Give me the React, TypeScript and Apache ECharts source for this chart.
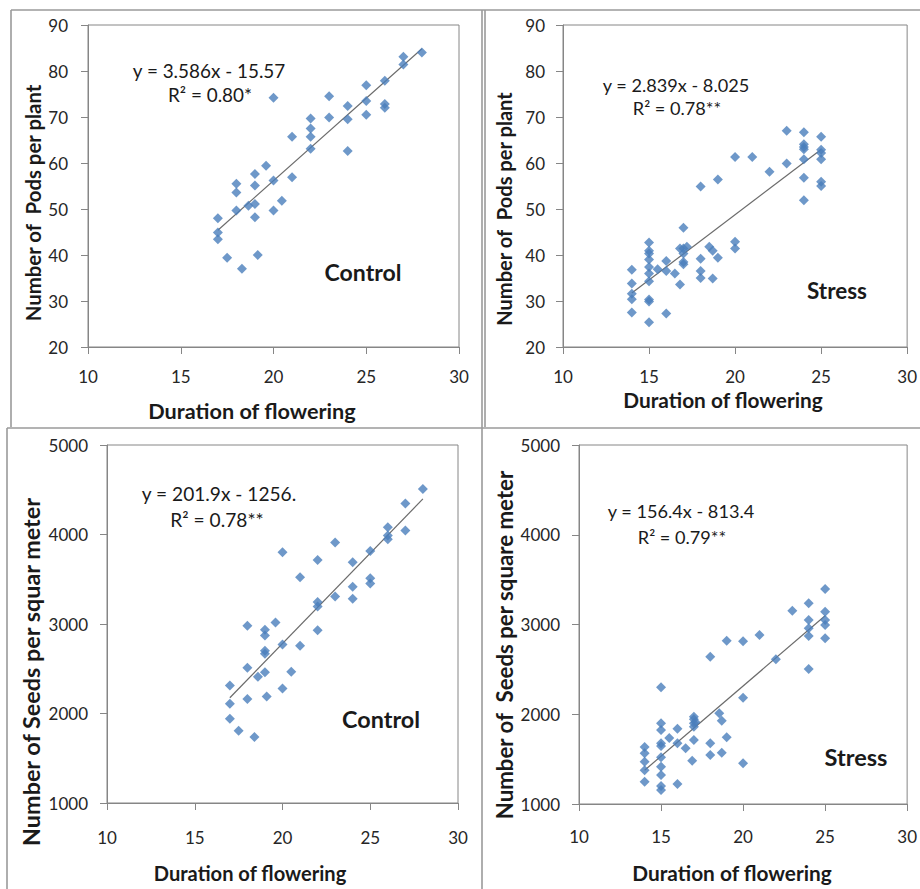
import React, { useEffect, useRef } from "react";
import * as echarts from "echarts";

// ---------- data ----------
const ctrlPodsX = [17, 17, 17, 17.5, 18, 18, 18, 18.3, 18.65, 19, 19, 19, 19, 19.15, 19.6, 20, 20, 20, 20.45, 21, 21, 22, 22, 22, 22, 23, 23, 24, 24, 24, 25, 25, 25, 26, 26, 26, 27, 27, 28];
const ctrlPodsY = [48.0, 44.9, 43.4, 39.4, 55.5, 53.6, 49.7, 37.0, 50.7, 57.6, 55.1, 51.1, 48.2, 40.0, 59.4, 74.2, 56.2, 49.7, 51.8, 65.7, 56.9, 69.7, 67.5, 65.7, 63.1, 74.5, 69.9, 72.4, 69.5, 62.6, 76.9, 73.5, 70.5, 77.9, 72.8, 72.0, 83.1, 81.4, 84.0];

const stressPodsX = [14, 14, 14, 14, 14, 15, 15, 15, 15, 15, 15, 15, 15, 15, 15, 15.5, 16, 16, 16, 16.5, 16.8, 16.8, 17, 17, 17, 17, 17, 17.2, 18, 18, 18, 18, 18.5, 18.7, 18.7, 19, 19, 20, 20, 20, 21, 22, 23, 23, 24, 24, 24, 24, 24, 24, 24, 25, 25, 25, 25, 25, 25];
const stressPodsY = [36.8, 33.8, 31.6, 30.4, 27.5, 42.7, 40.9, 40.3, 39.0, 37.4, 36.0, 34.3, 30.3, 29.9, 25.4, 36.9, 38.7, 36.5, 27.3, 36.0, 33.6, 41.4, 45.9, 41.4, 40.3, 38.5, 38.0, 41.8, 39.2, 36.5, 35.0, 54.9, 41.8, 40.9, 34.9, 56.4, 39.4, 61.3, 42.9, 41.4, 61.3, 58.1, 67.0, 59.9, 66.7, 64.1, 63.5, 63.0, 60.8, 56.8, 51.9, 65.7, 62.9, 62.2, 60.8, 55.9, 55.0];

const ctrlSeedsX = [17, 17, 17, 17.5, 18, 18, 18, 18.4, 18.6, 19, 19, 19, 19, 19, 19.1, 19.6, 20, 20, 20, 20.5, 21, 21, 22, 22, 22, 22, 23, 23, 24, 24, 24, 25, 25, 25, 26, 26, 26, 27, 27, 28];
const ctrlSeedsY = [2313, 2109, 1941, 1807, 2980, 2511, 2161, 1737, 2410, 2935, 2872, 2700, 2667, 2462, 2191, 3017, 3802, 2771, 2280, 2466, 3523, 2756, 3716, 3247, 3195, 2931, 3910, 3307, 3690, 3415, 3281, 3817, 3512, 3452, 4081, 3988, 3947, 4345, 4044, 4509];

const stressSeedsX = [14, 14, 14, 14, 14, 15, 15, 15, 15, 15, 15, 15, 15, 15, 15, 15.5, 16, 16, 16, 16.5, 16.9, 17, 17, 17, 17, 17, 17.1, 18, 18, 18, 18.55, 18.7, 18.7, 19, 19, 20, 20, 20, 21, 22, 23, 24, 24, 24, 24, 24, 25, 25, 25, 25, 25];
const stressSeedsY = [1635, 1565, 1472, 1375, 1249, 2300, 1899, 1825, 1676, 1646, 1520, 1416, 1323, 1201, 1156, 1735, 1839, 1676, 1223, 1620, 1483, 1973, 1943, 1899, 1862, 1713, 1910, 1676, 1546, 2642, 2010, 1928, 1572, 1743, 2820, 2812, 2185, 1453, 2883, 2612, 3154, 3236, 3050, 2957, 2872, 2504, 3396, 3143, 3050, 2994, 2846];

// regression coefficients (slope, intercept) as printed on the chart
const slopes = [3.586, 2.839, 201.9, 156.4];
const intercepts = [-15.57, -8.025, -1256, -813.4];
const equations = ["y = 3.586x - 15.57", "y = 2.839x - 8.025", "y = 201.9x - 1256.", "y = 156.4x - 813.4"];
const rSquared = ["R\u00b2 = 0.80*", "R\u00b2 = 0.78**", "R\u00b2 = 0.78**", "R\u00b2 = 0.79**"];
const treatments = ["Control", "Stress", "Control", "Stress"];
const yTitles = ["Number of  Pods per plant", "Number of  Pods per plant", "Number of Seeds per squar meter", "Number of  Seeds per square meter"];
const xTitle = "Duration of flowering";
const xTicks = [10, 15, 20, 25, 30];
const podTicks = [20, 30, 40, 50, 60, 70, 80, 90];
const seedTicks = [1000, 2000, 3000, 4000, 5000];

const FONT = "Lato";
const BLUE = "#4A7EBB";

function fitSize(text: string, weight: string, target: number): number {
  const ctx = document.createElement("canvas").getContext("2d");
  if (!ctx) return 16;
  ctx.font = `${weight} 100px ${FONT}`;
  const w = ctx.measureText(text).width;
  return w > 0 ? (100 * target) / w : 16;
}

export default function App() {
  const ref = useRef<HTMLDivElement>(null);
  useEffect(() => {
    document.body.style.margin = "0";
    const chart = echarts.init(ref.current!, null, { renderer: "svg" });

    const panelData = [
      { xs: ctrlPodsX, ys: ctrlPodsY, yt: podTicks },
      { xs: stressPodsX, ys: stressPodsY, yt: podTicks },
      { xs: ctrlSeedsX, ys: ctrlSeedsY, yt: seedTicks },
      { xs: stressSeedsX, ys: stressSeedsY, yt: seedTicks },
    ];
    const grids = [
      { left: 88, top: 25, width: 371, height: 322 },
      { left: 563, top: 25, width: 349, height: 322 },
      { left: 107, top: 445, width: 351, height: 358 },
      { left: 579, top: 445, width: 335, height: 359 },
    ];
    const xMargins = [21, 21, 26, 24];
    const yMargins = [20, 18, 19, 19];
    // centre positions and target text widths
    const layout = [
      { eq: [209, 70], r2: [210, 94], tr: [363, 272], xt: [252, 411], yt: [33, 203], eqW: 153, trW: 77, xtW: 208, ytW: 238 },
      { eq: [676, 85], r2: [677, 108], tr: [837, 290], xt: [723, 399], yt: [504, 209], eqW: 147, trW: 60, xtW: 200, ytW: 235 },
      { eq: [219, 493], r2: [217, 519], tr: [381, 719], xt: [250, 873], yt: [31, 672], eqW: 155, trW: 78, xtW: 193, ytW: 350 },
      { eq: [681, 511], r2: [682, 537], tr: [856, 757], xt: [732, 872], yt: [504, 645], eqW: 147, trW: 63, xtW: 200, ytW: 350 },
    ];

    const axisLine = { show: true, lineStyle: { color: "#868686", width: 1 } };
    const axisTick = { show: true, inside: false, length: 7, lineStyle: { color: "#868686" } };

    const xAxis: any[] = [];
    const yAxis: any[] = [];
    const series: any[] = [];
    const graphic: any[] = [];

    panelData.forEach((p, i) => {
      const yt = p.yt;
      xAxis.push({
        type: "value", gridIndex: i, min: xTicks[0], max: xTicks[xTicks.length - 1], interval: 5,
        axisLine, axisTick, splitLine: { show: false },
        axisLabel: { margin: xMargins[i], fontFamily: FONT, fontSize: 17, color: "#262626", formatter: (v: number) => String(v) },
      });
      yAxis.push({
        type: "value", gridIndex: i, min: yt[0], max: yt[yt.length - 1], interval: yt[1] - yt[0],
        axisLine, axisTick, splitLine: { show: false },
        axisLabel: { margin: yMargins[i], fontFamily: FONT, fontSize: 17, color: "#262626", formatter: (v: number) => String(v) },
      });
      series.push({
        type: "scatter", xAxisIndex: i, yAxisIndex: i,
        data: p.xs.map((x, k) => [x, p.ys[k]]),
        symbol: "diamond", symbolSize: 10,
        itemStyle: { color: BLUE },
        z: 3,
      });
      const x0 = Math.min(...p.xs);
      const x1 = Math.max(...p.xs);
      series.push({
        type: "line", xAxisIndex: i, yAxisIndex: i,
        data: [[x0, slopes[i] * x0 + intercepts[i]], [x1, slopes[i] * x1 + intercepts[i]]],
        symbol: "none", lineStyle: { color: "#6b6b6b", width: 1.2 },
        z: 2,
      });
      const L = layout[i];
      const txt = (pos: number[], text: string, fs: number, weight: string, extra: any = {}) => ({
        type: "text", x: pos[0], y: pos[1], z: 10,
        style: { text, fontFamily: FONT, fontSize: fs, fontWeight: weight, fill: "#1a1a1a", align: "center", verticalAlign: "middle" },
        ...extra,
      });
      const eqSize = fitSize(equations[i], "normal", L.eqW);
      graphic.push(txt(L.eq, equations[i], eqSize, "normal"));
      graphic.push(txt(L.r2, rSquared[i], eqSize, "normal"));
      graphic.push(txt(L.tr, treatments[i], fitSize(treatments[i], "bold", L.trW), "bold"));
      graphic.push(txt(L.xt, xTitle, fitSize(xTitle, "bold", L.xtW), "bold"));
      graphic.push(txt(L.yt, yTitles[i], fitSize(yTitles[i], "bold", L.ytW), "bold", { rotation: Math.PI / 2 }));
    });

    const frame = { stroke: "#9a9a9a", lineWidth: 1.6 };
    const line = (x1: number, y1: number, x2: number, y2: number) => ({
      type: "line", shape: { x1, y1, x2, y2 }, style: frame, z: 1, silent: true,
    });
    graphic.push(line(11, 10, 920, 10));
    graphic.push(line(11, 10, 11, 427));
    graphic.push(line(7, 428, 920, 428));
    graphic.push(line(7, 428, 7, 889));
    graphic.push(line(482, 10, 482, 889));
    graphic.push(line(485, 10, 485, 427));

    chart.setOption({
      animation: false,
      backgroundColor: "#ffffff",
      grid: grids.map((g) => ({ ...g, show: true, borderColor: "#868686", borderWidth: 1, backgroundColor: "transparent" })),
      xAxis,
      yAxis,
      series,
      graphic,
    });
    return () => chart.dispose();
  }, []);
  return <div ref={ref} style={{ width: 920, height: 889 }} />;
}
